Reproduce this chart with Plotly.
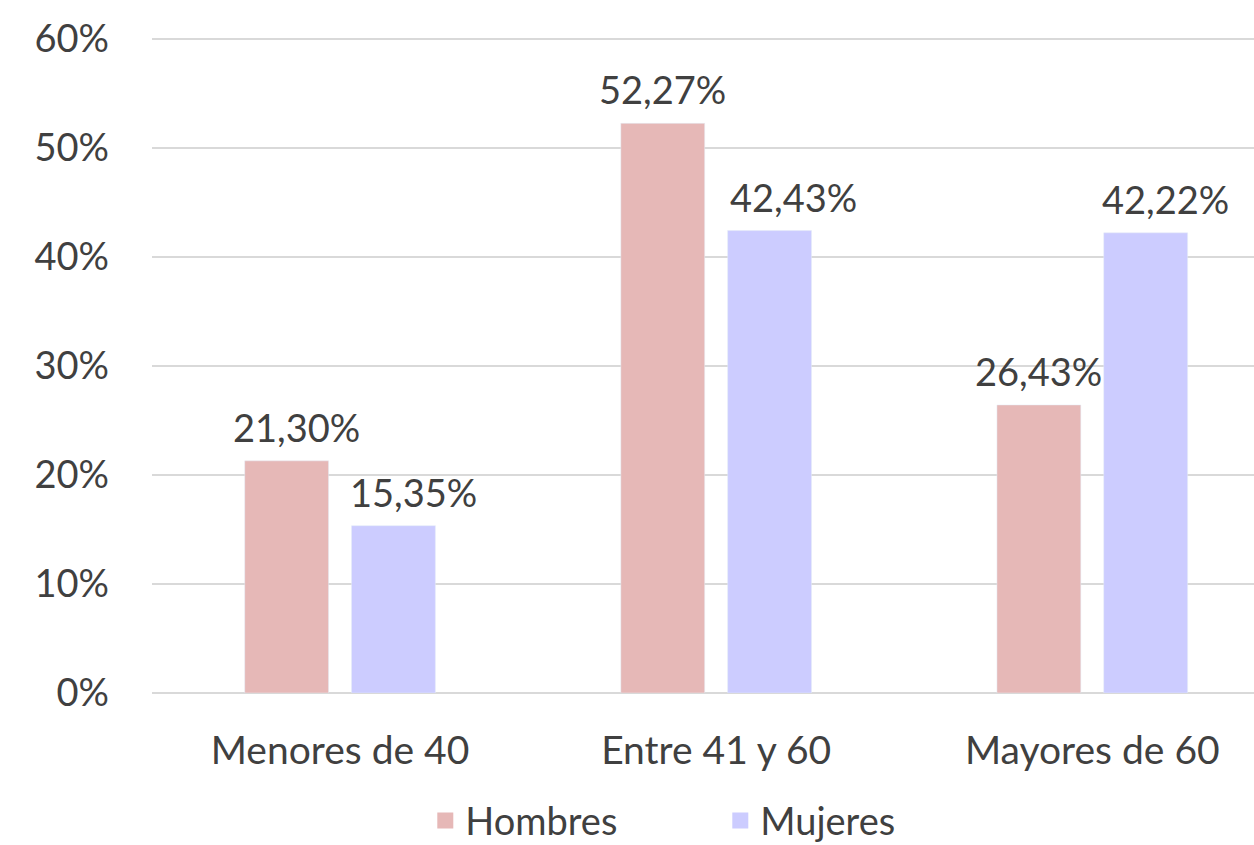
import plotly.graph_objects as go

categories = ["Menores de 40", "Entre 41 y 60", "Mayores de 60"]
hombres = [21.30, 52.27, 26.43]
mujeres = [15.35, 42.43, 42.22]
series_names = ["Hombres", "Mujeres"]
colors = ["#E6B8B7", "#CCCCFF"]
y_ticks = [0, 10, 20, 30, 40, 50, 60]
y_ticklabels = ["0%", "10%", "20%", "30%", "40%", "50%", "60%"]
label_xshift = [[10, 0, 0], [20, 24, 20]]

FONT = "Lato, 'Open Sans', sans-serif"
TXT = "#404040"
FS = 38
BARGAP = 0.432
BARGROUPGAP = 0.215

fig = go.Figure()
for name, vals, col in zip(series_names, [hombres, mujeres], colors):
    fig.add_trace(go.Bar(
        x=categories, y=vals, name=name, marker_color=col, showlegend=False,
    ))
    fig.add_trace(go.Scatter(
        x=[None], y=[None], mode="markers", name=name,
        marker=dict(symbol="square", size=22, color=col),
    ))

# data labels above each bar
slot = (1 - BARGAP) / 2
for s, vals in enumerate([hombres, mujeres]):
    off = (s - 0.5) * slot
    for i, v in enumerate(vals):
        fig.add_annotation(
            x=i + off, y=v, text=f"{v:.2f}%".replace(".", ","),
            showarrow=False, yanchor="middle", yshift=34, xshift=label_xshift[s][i],
            font=dict(size=FS, color=TXT, family=FONT),
        )

fig.update_layout(
    width=1254, height=845,
    margin=dict(l=152, r=0, t=38, b=152, autoexpand=False),
    paper_bgcolor="white", plot_bgcolor="white",
    separators=",.",
    barmode="group", bargap=BARGAP, bargroupgap=BARGROUPGAP,
    font=dict(family=FONT, size=FS, color=TXT),
    showlegend=True,
    legend=dict(orientation="h", x=0.248, xanchor="left", y=-0.147, yanchor="top",
                font=dict(size=FS, color=TXT), itemsizing="trace",
                entrywidth=250, entrywidthmode="pixels"),
)
fig.update_xaxes(range=[-0.5, 2.43], showgrid=False, showline=False, ticks="",
                 tickfont=dict(size=39, color=TXT), ticklabelstandoff=31, automargin=False)
fig.update_yaxes(range=[0, 60.1], tickmode="array", tickvals=y_ticks, ticktext=y_ticklabels,
                 showgrid=True,
                 gridcolor="#D9D9D9", gridwidth=2, zeroline=True, zerolinecolor="#D9D9D9",
                 zerolinewidth=2, showline=False, ticks="",
                 tickfont=dict(size=FS, color=TXT), ticklabelstandoff=42, automargin=False)

fig.write_html("out.html", config={"displayModeBar": False},
               post_script="document.body.style.margin='0';document.body.style.overflow='hidden';")
